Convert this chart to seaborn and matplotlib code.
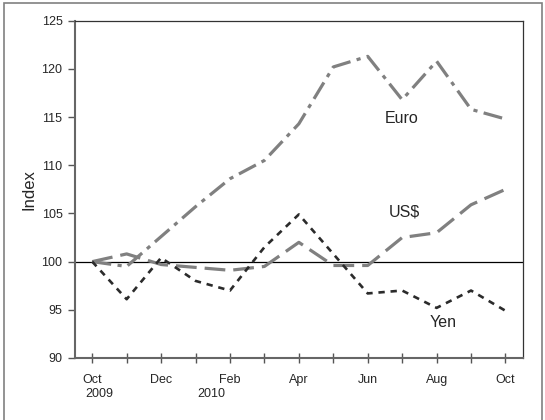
import pandas as pd
import numpy as np
import seaborn as sns
import matplotlib.pyplot as plt
from matplotlib.patches import Rectangle

# monthly index values, Oct 2009 = 100
months = ['Oct', 'Nov', 'Dec', 'Jan', 'Feb', 'Mar', 'Apr', 'May', 'Jun', 'Jul', 'Aug', 'Sep', 'Oct']
euro = [100, 99.5, 102.6, 105.7, 108.6, 110.5, 114.3, 120.2, 121.3, 116.8, 120.8, 115.8, 114.8]
usd = [100, 100.8, 99.7, 99.4, 99.1, 99.5, 102.0, 99.6, 99.6, 102.5, 103.0, 105.9, 107.5]
yen = [100, 96.1, 100.4, 98.0, 97.0, 101.5, 104.9, 100.8, 96.7, 97.0, 95.2, 97.0, 94.9]
tick_labels = ['Oct', '', 'Dec', '', 'Feb', '', 'Apr', '', 'Jun', '', 'Aug', '', 'Oct']

rows = []
for name, vals in [('Euro', euro), ('US$', usd), ('Yen', yen)]:
	for i, v in enumerate(vals):
		rows.append([i, v, name])
df = pd.DataFrame(rows, columns=['month', 'index', 'currency'])

sns.set_style('white')
plt.rcParams['font.family'] = ['Liberation Sans', 'DejaVu Sans']

fig = plt.figure(figsize=(5.45, 4.2), dpi=100)
ax = fig.add_axes([75/545, 62/420, 447.7/545, 337.3/420])

cpalette = {'Euro': '#808080', 'US$': '#808080', 'Yen': '#2b2b2b'}
dashes = {'Euro': (6, 2, 1.3, 2), 'US$': (6.5, 2.5), 'Yen': (2.4, 2.2)}
sns.lineplot(data=df, x='month', y='index', hue='currency', style='currency',
	palette=cpalette, dashes=dashes, ax=ax, legend=False)
for ln, lw in zip(ax.lines, [2.3, 2.3, 1.9]):
	ln.set_linewidth(lw)

ax.axhline(100, color='black', lw=0.9, zorder=0)

ax.set_xlim(-0.5, 12.5)
ax.set_ylim(90, 125)
ax.set_xticks(range(13))
ax.set_xticklabels(tick_labels, fontsize=9)
ax.set_yticks(range(90, 126, 5))
ax.tick_params(axis='y', labelsize=9, direction='out', length=5, width=1, color='#555555', pad=4, left=True)
ax.tick_params(axis='x', direction='inout', length=7, width=1, color='#555555', pad=8, bottom=True)
ax.set_xlabel('')
ax.set_ylabel('Index', fontsize=12)
ax.yaxis.set_label_coords(-0.086, 0.5)

for side in ['left', 'bottom']:
	ax.spines[side].set_color('#666666')
	ax.spines[side].set_linewidth(1.5)
for side in ['top', 'right']:
	ax.spines[side].set_color('#333333')
	ax.spines[side].set_linewidth(0.9)

# year labels under the months
ax.text(0.2, -0.088, '2009', transform=ax.get_xaxis_transform(), ha='center', va='top', fontsize=9)
ax.text(3.46, -0.088, '2010', transform=ax.get_xaxis_transform(), ha='center', va='top', fontsize=9)

# series labels
ax.text(8.97, 114.8, 'Euro', fontsize=11.5, ha='center', va='center')
ax.text(9.05, 105.1, 'US$', fontsize=11.5, ha='center', va='center')
ax.text(10.2, 93.7, 'Yen', fontsize=11.5, ha='center', va='center')

# outer frame
fig.patches.append(Rectangle((4/545, -0.05), 538/545, 1.05 - 3/420, transform=fig.transFigure,
	fill=False, edgecolor='#808080', lw=1.2))

plt.savefig('out.png', dpi=100)
plt.close('all')
